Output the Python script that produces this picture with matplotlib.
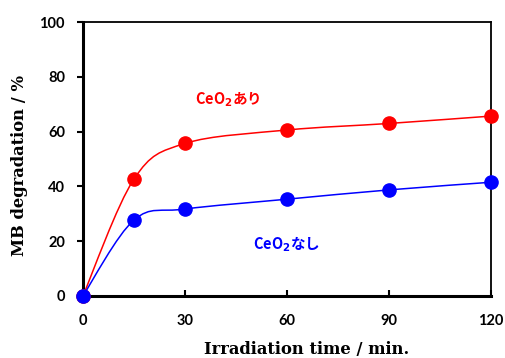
import numpy as np
import matplotlib
matplotlib.use("Agg")
import matplotlib.pyplot as plt
from matplotlib.path import Path
from matplotlib.patches import PathPatch

time_min = [0, 15, 30, 60, 90, 120]
with_ceo2 = [0, 42.7, 55.7, 60.6, 63.0, 65.7]
without_ceo2 = [0, 27.7, 31.7, 35.3, 38.7, 41.5]
x_ticks = [0, 30, 60, 90, 120]
y_ticks = [0, 20, 40, 60, 80, 100]

plt.rcParams['font.family'] = ['Noto Sans CJK JP', 'DejaVu Sans']

fig = plt.figure(figsize=(5.05, 3.58), dpi=100)
ax = fig.add_axes([0.1644, 0.174, 0.8079, 0.7637])


def smooth_path(xs, ys):
    # Excel-style smoothed line: cubic Bezier with Catmull-Rom control points
    pts = np.column_stack([xs, ys]).astype(float)
    n = len(pts)
    verts = [pts[0]]
    codes = [Path.MOVETO]
    for i in range(n - 1):
        p0 = pts[i - 1] if i > 0 else pts[i]
        p1 = pts[i]
        p2 = pts[i + 1]
        p3 = pts[i + 2] if i + 2 < n else pts[i + 1]
        c1 = p1 + (p2 - p0) / 6.0
        c2 = p2 - (p3 - p1) / 6.0
        verts += [c1, c2, p2]
        codes += [Path.CURVE4] * 3
    return Path(verts, codes)


for ys, col in [(with_ceo2, '#ff0000'), (without_ceo2, '#0000ff')]:
    patch = PathPatch(smooth_path(time_min, ys), facecolor='none',
                      edgecolor=col, lw=1.1, zorder=3)
    ax.add_patch(patch)
    ax.plot(time_min, ys, 'o', color=col, ms=9.5, zorder=4, clip_on=False)

ax.set_xlim(0, 120)
ax.set_ylim(0, 100)
ax.set_xticks(x_ticks)
ax.set_yticks(y_ticks)

ax.spines['left'].set_linewidth(2.2)
ax.spines['bottom'].set_linewidth(2.2)
ax.spines['top'].set_linewidth(1.3)
ax.spines['right'].set_linewidth(1.3)

ax.tick_params(axis='y', direction='out', length=4, width=1.5, pad=9)
ax.tick_params(axis='x', direction='in', length=4, width=1.5, pad=13)
for lab in ax.get_xticklabels() + ax.get_yticklabels():
    lab.set_fontfamily(['Lato', 'DejaVu Sans'])
    lab.set_fontweight('bold')
    lab.set_fontsize(10.5)

ax.set_xlabel('Irradiation time / min.', family=['DejaVu Serif'],
              fontweight='bold', fontsize=11.8)
ax.set_ylabel('MB degradation / %', family=['DejaVu Serif'],
              fontweight='bold', fontsize=11.8)
ax.xaxis.set_label_coords(0.549, -0.166)
ax.yaxis.set_label_coords(-0.134, 0.476)

ax.text(42.6, 72.0, 'CeO$_\\mathbf{2}$あり', color='#ff0000', fontweight='bold',
        fontsize=10.5, ha='center', va='center')
ax.text(59.7, 19.0, 'CeO$_\\mathbf{2}$なし', color='#0000ff', fontweight='bold',
        fontsize=10.5, ha='center', va='center')

fig.savefig('out.png', dpi=100)
